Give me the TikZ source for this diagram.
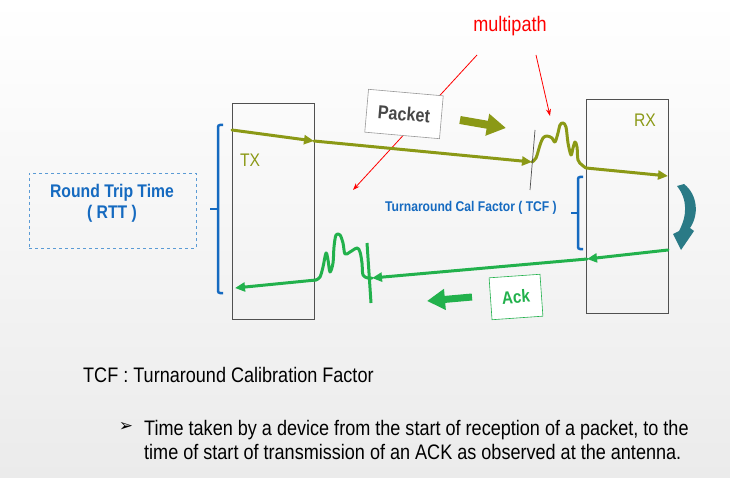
\documentclass[tikz,border=0pt]{standalone}
\usepackage{fontspec}
\setmainfont{Liberation Sans}[FakeStretch=0.86]
\newfontfamily\symfont{DejaVu Sans}
\usepackage{xcolor}
\usetikzlibrary{arrows.meta, positioning}
\definecolor{pktolive}{RGB}{139,153,22}
\definecolor{ackgreen}{RGB}{34,177,76}
\definecolor{rttblue}{RGB}{21,106,192}
\definecolor{dashblue}{RGB}{91,155,213}
\definecolor{devgray}{RGB}{80,80,80}
\definecolor{turnteal}{RGB}{42,122,134}
\definecolor{bggray}{RGB}{235,235,235}

\begin{document}
\begin{tikzpicture}[
  x=1pt, y=-1pt,
  dev/.style={draw=devgray, line width=0.8pt, minimum width=82pt,
              minimum height=216pt, inner sep=0pt},
  devlbl/.style={text=pktolive, font=\fontsize{18.2}{20}\selectfont},
  tagbox/.style={draw, line width=0.6pt, fill=white, inner sep=0pt},
  sig/.style={line width=3pt, line cap=round},
  sigarr/.style={sig, -{Triangle[length=10pt,width=9pt]}},
  fat/.style={line width=8pt, -{Triangle[length=19pt,width=21pt]}},
  brace/.style={draw=rttblue, line width=2.5pt, rounded corners=2pt},
  note/.style={red, line width=0.8pt, -{Stealth[length=7pt,width=5pt]}},
  bodytxt/.style={font=\fontsize{21}{24}\selectfont, align=left, inner sep=0pt}
]
\fill[top color=white, bottom color=bggray] (0,0) rectangle (730,478);
\useasboundingbox (0,0) rectangle (730,478);

\node[dev] (tx) at (273,211) {};
\node[dev, minimum height=214pt] (rx) at (627,206) {};
\node[devlbl] (txl) at (250,160) {TX};
\node[devlbl] (rxl) at (645,120) {RX};

\coordinate (pkt-a) at (232,130);
\coordinate (pkt-b) at (314,141);
\coordinate (pkt-c) at (532,162);
\coordinate (pkt-d) at (586,168);
\coordinate (pkt-e) at (668,176);
\coordinate (ack-a) at (668,250);
\coordinate (ack-b) at (587,259);
\coordinate (ack-c) at (372,278);
\coordinate (ack-d) at (316,280);
\coordinate (ack-e) at (235,288);

\node[text=red, font=\fontsize{21}{24}\selectfont] (mp) at (510,26) {multipath};
\coordinate (mp-l) at (477,55);
\coordinate (mp-r) at (536,55);
\coordinate (mp-lt) at (353,190);
\coordinate (mp-rt) at (550,116);
\draw[note] (mp-l) -- (mp-lt);
\draw[note] (mp-r) -- (mp-rt);

\node[tagbox, draw=gray!80, rotate=-5, minimum width=75pt, minimum height=43pt,
      text=black!72, font=\bfseries\fontsize{18.8}{20}\selectfont] (pkt) at (404,114) {Packet};
\coordinate (pkt-fa) at (460,120);
\coordinate (pkt-fb) at (506,128);
\draw[fat, pktolive] (pkt-fa) -- (pkt-fb);

\draw[pktolive, sigarr] (pkt-a) -- (pkt-b);
\draw[pktolive, sigarr] (pkt-b) -- (pkt-c);
\draw[pktolive, sig, line join=round] plot[smooth, tension=0.55] coordinates {
  (pkt-c) (536,158) (540,145) (543,138) (547,136) (552,138) (555,142) (558,133)
  (560,125) (563,123) (566,127) (568,143) (571,155) (573,148) (575,142)
  (577,147) (578,160) (582,165) (pkt-d)};
\draw[pktolive, sigarr] (pkt-d) -- (pkt-e);
\coordinate (cut-t) at (535,130);
\coordinate (cut-b) at (530,190);
\draw[devgray, line width=0.7pt] (cut-t) -- (cut-b);

\draw[ackgreen, sigarr] (ack-a) -- (ack-b);
\draw[ackgreen, sigarr] (ack-b) -- (ack-c);
\draw[ackgreen, sig, line join=round] plot[smooth, tension=0.55] coordinates {
  (ack-c) (368,278) (363,275) (362,263) (360,252) (357,248) (350,252) (345,254)
  (343,243) (340,235) (336,235) (334,247) (333,263) (330,272) (328,260)
  (326,253) (323,267) (320,277) (ack-d)};
\draw[ackgreen, sigarr] (ack-d) -- (ack-e);
\coordinate (tick-t) at (367,243);
\coordinate (tick-b) at (371,303);
\draw[ackgreen, line width=3pt] (tick-t) -- (tick-b);

\node[tagbox, draw=ackgreen, rotate=4, minimum width=51pt, minimum height=42pt,
      text=ackgreen, font=\bfseries\fontsize{17.8}{20}\selectfont] (ack) at (516,297) {Ack};
\coordinate (ack-fa) at (472,297);
\coordinate (ack-fb) at (427,301);
\draw[fat, ackgreen, line width=7pt, -{Triangle[length=18pt,width=20pt]}] (ack-fa) -- (ack-fb);

\fill[turnteal] (677,186) -- (684,184) .. controls (698,195) and (699,215) .. (690,228)
  -- (694,231) -- (681,250) -- (673,234) -- (679,231)
  .. controls (687,216) and (688,200) .. (677,186) -- cycle;

\draw[brace] (223,125) -- (218,125) -- (218,293) -- (223,293);
\draw[brace, rounded corners=0pt] (218,209) -- (210,209);
\draw[brace] (583,177) -- (578,177) -- (578,249) -- (583,249);
\draw[brace, rounded corners=0pt] (578,213) -- (571,213);

\node[draw=dashblue, dashed, line width=0.8pt, minimum width=167pt,
      minimum height=75pt] (rttbox) at (112.5,210.5) {};
\node[text=rttblue, align=center, font=\bfseries\fontsize{18.3}{21}\selectfont]
  (rtt) at (112,203) {Round Trip Time\\( RTT )};
\node[text=rttblue, font=\bfseries\fontsize{14.1}{16}\selectfont] (tcf) at (471,208)
  {Turnaround Cal Factor ( TCF )};

\node[bodytxt, anchor=base west] (def) at (83,382) {TCF : Turnaround Calibration Factor};
\node[font=\symfont\fontsize{17}{19}\selectfont, inner sep=0pt] (bul) at (126,427) {➢};
\node[bodytxt, anchor=base west] (expl) at (144,459)
  {Time taken by a device from the start of reception of a packet, to the\\
   time of start of transmission of an ACK as observed at the antenna.};
\end{tikzpicture}
\end{document}
